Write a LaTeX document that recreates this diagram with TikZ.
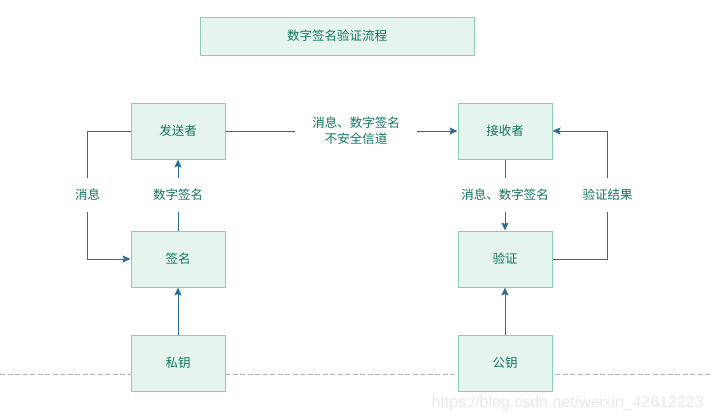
\documentclass[tikz,border=0pt]{standalone}
\usepackage{fontspec}
\setmainfont{Noto Sans CJK SC}
\newfontfamily\wmfont{Liberation Sans}
\usetikzlibrary{arrows.meta}
\definecolor{boxfill}{RGB}{230,244,238}
\definecolor{boxline}{RGB}{136,206,178}
\definecolor{txtc}{RGB}{16,118,94}
\definecolor{linc}{RGB}{46,106,150}
\begin{document}
\begin{tikzpicture}[x=1pt,y=-1pt,
  box/.style={draw=boxline, fill=boxfill, line width=1pt, text=txtc,
    font=\fontsize{12.5}{15}\selectfont, minimum width=94pt, minimum height=56pt, inner sep=0pt},
  titlebox/.style={box, minimum width=274pt, minimum height=38pt},
  conn/.style={draw=linc, line width=1pt, -{Stealth[length=8pt,width=7pt,inset=1.5pt]}},
  lbl/.style={fill=white, text=txtc, font=\fontsize{12.5}{16}\selectfont, inner xsep=2pt, inner ysep=11pt}]
\useasboundingbox (0,0) rectangle (712,418);
\draw[black!30, line width=1pt, dash pattern=on 5pt off 2.5pt] (0,374) -- (712,374);
\node[titlebox] (title) at (337,36) {数字签名验证流程};
\node[box] (sender) at (178,131) {发送者};
\node[box] (sign) at (178,259) {签名};
\node[box] (priv) at (178,363) {私钥};
\node[box] (recv) at (505,131) {接收者};
\node[box] (verify) at (505,259) {验证};
\node[box] (pub) at (505,363) {公钥};
\draw[conn] (sender.east) -- node[lbl, pos=0.563, align=center, inner xsep=17pt, inner ysep=2pt] {消息、数字签名\\不安全信道} (recv.west);
\draw[conn] (sender.west) -- ++(-43,0) |- node[lbl, pos=0.25] {消息} (sign.west);
\draw[conn] (sign.north) -- node[lbl] {数字签名} (sender.south);
\draw[conn] (priv.north) -- (sign.south);
\draw[conn] (recv.south) -- node[lbl] {消息、数字签名} (verify.north);
\draw[conn] (verify.east) -- ++(55,0) |- node[lbl, pos=0.25] {验证结果} (recv.east);
\draw[conn] (pub.north) -- (verify.south);
\node[text=black!9, font=\wmfont\fontsize{16}{16}\selectfont, anchor=east, inner sep=0pt] (wm) at (704,403) {https://blog.csdn.net/weixin\_42612223};
\end{tikzpicture}
\end{document}
